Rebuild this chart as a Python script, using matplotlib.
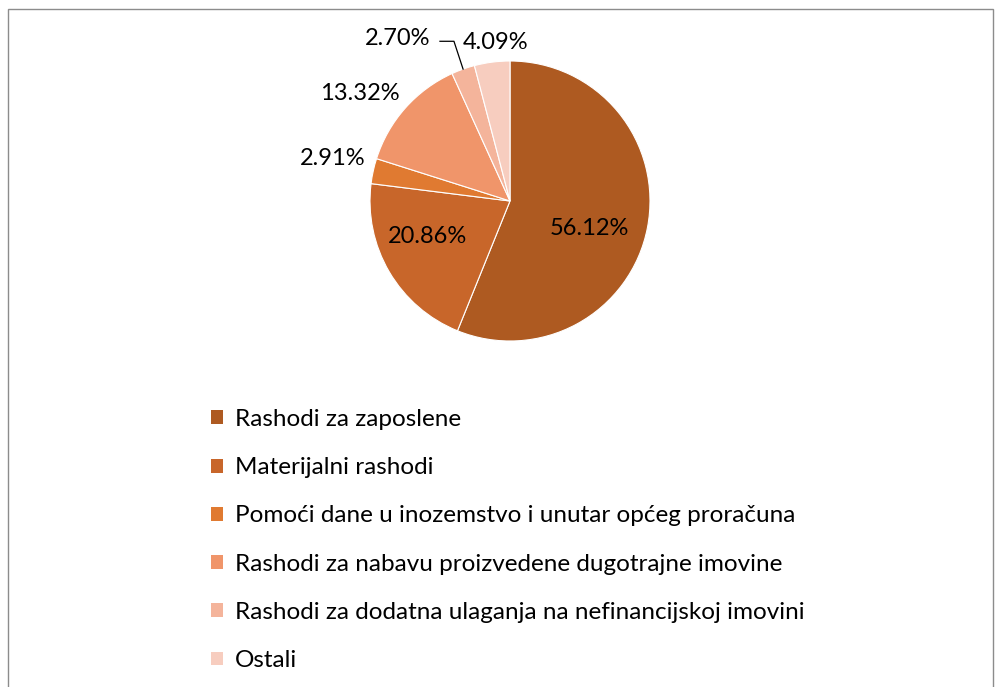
import numpy as np
import matplotlib.pyplot as plt
from matplotlib.patches import Patch, Rectangle

# Data
categories = [
    "Rashodi za zaposlene",
    "Materijalni rashodi",
    "Pomoći dane u inozemstvo i unutar općeg proračuna",
    "Rashodi za nabavu proizvedene dugotrajne imovine",
    "Rashodi za dodatna ulaganja na nefinancijskoj imovini",
    "Ostali",
]
shares = [56.12, 20.86, 2.91, 13.32, 2.70, 4.09]
colors = ["#AE5A21", "#C8662A", "#E07A31", "#F0956A", "#F4B49B", "#F7CDBF"]

# label placement (angle shift in degrees, radius) relative to slice middle
label_shift = [-8, -7, -1, 6, 15, -2]
label_radius = [0.60, 0.64, 1.30, 1.32, 1.41, 1.14]

plt.rcParams['font.family'] = ['Lato', 'DejaVu Sans']

fig = plt.figure(figsize=(9.98, 6.87), dpi=100)
W, H = 998, 687

# border
fig.patches.append(Rectangle((8 / W, -0.01), (993 - 8) / W, (H - 9) / H + 0.01,
                             transform=fig.transFigure, fill=False,
                             edgecolor="#8c8c8c", linewidth=1.0))

ax = fig.add_axes([370 / W, (H - 341) / H, 280 / W, 280 / H])
wedges, _ = ax.pie(shares, colors=colors, startangle=90, counterclock=False,
                   radius=1, wedgeprops=dict(edgecolor="white", linewidth=0.8))
ax.set_xlim(-1, 1)
ax.set_ylim(-1, 1)
ax.set_aspect('equal')
ax.axis('off')

for i, w in enumerate(wedges):
    mid = (w.theta1 + w.theta2) / 2
    a = np.deg2rad(mid + label_shift[i])
    x, y = label_radius[i] * np.cos(a), label_radius[i] * np.sin(a)
    ax.text(x, y, f"{shares[i]:.2f}%", ha='center', va='center',
            fontsize=17, color="black", clip_on=False)
    if i == 4:
        am = np.deg2rad(mid)
        ex, ey = np.cos(am), np.sin(am)
        ax.plot([x + 0.30, x + 0.40, ex], [y - 0.02, y - 0.02, ey], color="black",
                linewidth=0.9, clip_on=False)

handles = [Patch(facecolor=c, edgecolor='none') for c in colors]
fig.legend(handles, categories, loc='upper left',
           bbox_to_anchor=(211 / W, 1 - 409 / H), frameon=False,
           fontsize=17.5, handlelength=0.5, handleheight=0.5, handletextpad=0.5,
           labelspacing=1.12, borderaxespad=0, borderpad=0)

fig.savefig("out.png", dpi=100)
